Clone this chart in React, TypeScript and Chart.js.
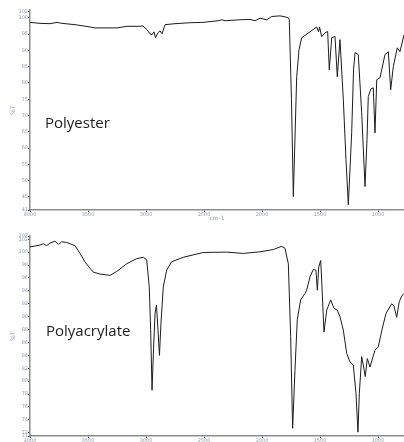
import React, { useEffect, useRef } from "react";
import { Chart, registerables } from "chart.js";

Chart.register(...registerables);

// Polyester spectrum (wavenumber cm-1, %T)
const polyesterWavenumbers = [
  4000, 3914, 3828, 3767, 3724, 3612, 3483, 3440, 3250, 3164, 3052, 3026, 2991, 2966, 2948, 2931,
  2918, 2897, 2879, 2862, 2836, 2750, 2621, 2509, 2379, 2345, 2319, 2190, 2104, 2060, 2017, 1960,
  1917, 1845, 1802, 1773, 1765, 1746, 1730, 1701, 1681, 1658, 1586, 1552, 1529, 1513, 1504, 1486,
  1457, 1434, 1420, 1399, 1371, 1351, 1328, 1299, 1276, 1256, 1227, 1211, 1198, 1170, 1141, 1112,
  1095, 1084, 1061, 1041, 1026, 1011, 983, 940, 911, 891, 868, 834, 811, 776,
];
const polyesterTransmittance = [
  98.6, 98.3, 98.2, 98.6, 98.3, 97.9, 97.2, 96.9, 96.9, 97.4, 97.4, 97.5, 96.3, 95.1, 94.8, 95.7,
  93.9, 95.4, 96.0, 95.1, 97.9, 98.2, 98.5, 98.6, 99.1, 99.4, 99.1, 99.4, 99.5, 99.1, 99.9, 99.4,
  100.4, 100.6, 100.3, 100.0, 99.4, 74.8, 45.1, 81.9, 90.2, 93.9, 95.7, 96.6, 97.2, 95.7, 97.2, 94.2,
  95.4, 95.8, 84.0, 93.9, 94.3, 81.9, 93.3, 74.8, 56.4, 42.6, 64.7, 84.0, 89.3, 88.7, 70.9, 48.2,
  62.6, 75.8, 78.2, 78.5, 64.7, 81.0, 81.6, 88.7, 89.6, 77.9, 85.0, 90.8, 89.6, 94.8,
];

// Polyacrylate spectrum (wavenumber cm-1, %T)
const polyacrylateWavenumbers = [
  4000, 3914, 3885, 3856, 3828, 3784, 3756, 3727, 3684, 3655, 3612, 3569, 3526, 3483, 3454, 3397,
  3310, 3253, 3166, 3080, 3023, 2994, 2972, 2960, 2948, 2935, 2922, 2910, 2897, 2884, 2871, 2851,
  2822, 2779, 2679, 2506, 2304, 2161, 2017, 1903, 1830, 1802, 1773, 1753, 1736, 1716, 1696, 1667,
  1629, 1615, 1586, 1558, 1535, 1523, 1511, 1494, 1483, 1466, 1442, 1408, 1380, 1351, 1328, 1299,
  1270, 1242, 1213, 1190, 1173, 1161, 1141, 1127, 1110, 1092, 1069, 1026, 998, 960, 931, 882, 862,
  839, 817, 796, 776,
];
const polyacrylateTransmittance = [
  100.8, 101.1, 101.3, 101.0, 101.4, 101.7, 101.2, 101.6, 101.5, 101.3, 101.0, 99.8, 98.5, 97.5, 96.9, 96.6,
  96.4, 97.0, 98.2, 99.0, 99.2, 98.8, 94.6, 88.0, 78.6, 85.0, 90.5, 91.8, 88.0, 84.0, 89.0, 94.6,
  97.2, 98.5, 99.2, 99.95, 100.0, 99.8, 100.05, 100.4, 100.9, 100.6, 98.2, 86.9, 72.7, 81.7, 89.5, 92.6,
  93.6, 94.1, 96.2, 97.3, 97.2, 94.1, 97.7, 98.7, 94.6, 87.6, 91.0, 92.6, 91.3, 91.0, 90.0, 87.9,
  84.3, 83.0, 82.5, 78.1, 72.1, 78.1, 83.8, 82.5, 80.7, 83.5, 82.2, 84.8, 85.3, 88.4, 90.5, 92.0, 91.6,
  89.9, 92.3, 93.2, 93.6,
];

const xTickValues = [4000, 3500, 3000, 2500, 2000, 1500, 1000];
const polyesterYTicks = [41, 45, 50, 55, 60, 65, 70, 75, 80, 85, 90, 95, 100, 102];
const polyacrylateYTicks = [71.5, 72, 74, 76, 78, 80, 82, 84, 86, 88, 90, 92, 94, 96, 98, 100, 102, 102.5];

const X_MIN = 776;
const X_MAX = 4000;

function makeChart(
  canvas: HTMLCanvasElement,
  xs: number[],
  ys: number[],
  yMin: number,
  yMax: number,
  yTicks: number[],
  padTop: number,
  xAxisHeight: number
) {
  const tickColor = "#8f9cb0";
  const tickFont = { size: 5, family: "DejaVu Sans" };
  return new Chart(canvas, {
    type: "line",
    data: {
      datasets: [
        {
          data: xs.map((x, i) => ({ x, y: ys[i] })),
          borderColor: "#1c1c1c",
          borderWidth: 1,
          pointRadius: 0,
          tension: 0,
          fill: false,
        },
      ],
    },
    options: {
      animation: false,
      responsive: false,
      devicePixelRatio: 1,
      layout: { padding: { top: padTop, left: 0, right: 0, bottom: 0 } },
      plugins: { legend: { display: false }, tooltip: { enabled: false } },
      scales: {
        x: {
          type: "linear",
          reverse: true,
          min: X_MIN,
          max: X_MAX,
          afterBuildTicks: (scale: any) => {
            scale.ticks = xTickValues.map((v) => ({ value: v }));
          },
          afterFit: (scale: any) => {
            scale.height = xAxisHeight;
          },
          ticks: {
            color: tickColor,
            font: tickFont,
            padding: 0,
            maxRotation: 0,
            autoSkip: false,
            callback: (v: any) => String(v),
          },
          grid: { drawOnChartArea: false, drawTicks: true, tickLength: 2, color: "#444" },
          border: { display: true, color: "#8c8c8c", width: 1.5 },
          title: {
            display: true,
            text: "cm-1",
            color: "#8f9cb0",
            font: { size: 6, family: "DejaVu Sans" },
            padding: { top: 0, bottom: 0 },
          },
        },
        y: {
          type: "linear",
          min: yMin,
          max: yMax,
          afterBuildTicks: (scale: any) => {
            scale.ticks = yTicks.map((v) => ({ value: v }));
          },
          afterFit: (scale: any) => {
            scale.width = 30;
          },
          ticks: {
            color: tickColor,
            font: tickFont,
            padding: 0,
            autoSkip: false,
            callback: (v: any) => String(Math.floor(Number(v))),
          },
          grid: { drawOnChartArea: false, drawTicks: true, tickLength: 2, color: "#333" },
          border: { display: true, color: "#8c8c8c", width: 1.5 },
          title: {
            display: true,
            text: "%T",
            color: "#8f9cb0",
            font: { size: 6, family: "DejaVu Sans" },
            padding: { top: 10, bottom: 0 },
          },
        },
      },
    },
  } as any);
}

export default function App() {
  const topRef = useRef<HTMLCanvasElement>(null);
  const botRef = useRef<HTMLCanvasElement>(null);

  useEffect(() => {
    document.body.style.margin = "0";
    const c1 = makeChart(
      topRef.current!,
      polyesterWavenumbers,
      polyesterTransmittance,
      41,
      102.4,
      polyesterYTicks,
      10,
      12
    );
    const c2 = makeChart(
      botRef.current!,
      polyacrylateWavenumbers,
      polyacrylateTransmittance,
      71.5,
      102.5,
      polyacrylateYTicks,
      15,
      20
    );
    return () => {
      c1.destroy();
      c2.destroy();
    };
  }, []);

  const labelStyle: React.CSSProperties = {
    position: "absolute",
    fontFamily: "'Open Sans', sans-serif",
    fontSize: 15,
    color: "#1e1e1e",
    lineHeight: "20px",
    whiteSpace: "nowrap",
  };

  return (
    <div style={{ position: "relative", width: 404, height: 442, overflow: "hidden", background: "#fff" }}>
      <div style={{ position: "absolute", left: 0, top: 0, width: 404, height: 222 }}>
        <canvas ref={topRef} width={404} height={222} style={{ display: "block" }} />
      </div>
      <div style={{ position: "absolute", left: 0, top: 221, width: 404, height: 221, overflow: "hidden" }}>
        <canvas ref={botRef} width={404} height={235} style={{ display: "block" }} />
      </div>
      <div style={{ ...labelStyle, left: 45, top: 112 }}>Polyester</div>
      <div style={{ ...labelStyle, left: 46, top: 320 }}>Polyacrylate</div>
    </div>
  );
}
